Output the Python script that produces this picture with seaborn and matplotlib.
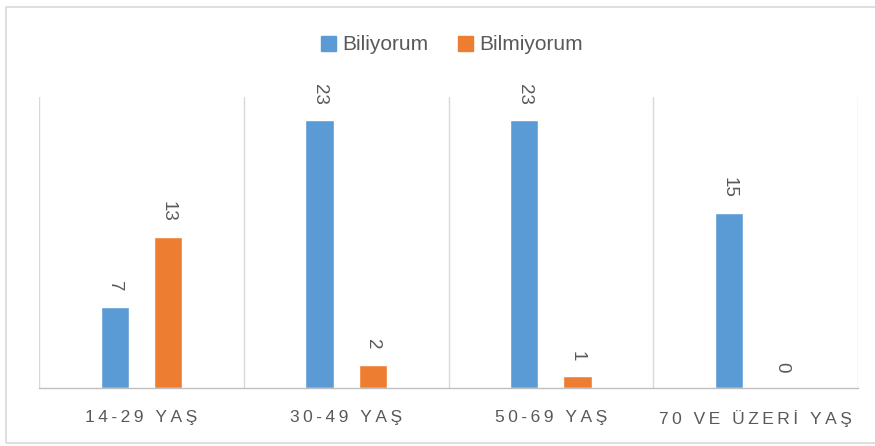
import matplotlib
matplotlib.use("Agg")
import matplotlib.pyplot as plt
import seaborn as sns
import pandas as pd
from matplotlib.patches import Rectangle

categories = ["14-29 YAŞ", "30-49 YAŞ", "50-69 YAŞ", "70 VE ÜZERİ YAŞ"]
series_names = ["Biliyorum", "Bilmiyorum"]
biliyorum = [7, 23, 23, 15]
bilmiyorum = [13, 2, 1, 0]

BLUE = "#5B9BD5"
ORANGE = "#ED7D31"
GRID = "#D9D9D9"
TEXT = "#595959"

sns.set_theme(style="white")
plt.rcParams['font.family'] = ['Liberation Sans', 'DejaVu Sans']

df = pd.DataFrame({
    "grup": categories * 2,
    "durum": [series_names[0]] * len(categories) + [series_names[1]] * len(categories),
    "deger": biliyorum + bilmiyorum,
})

W, H = 875, 446
fig = plt.figure(figsize=(W / 100, H / 100), dpi=100)
fig.patch.set_facecolor("white")
ax = fig.add_axes([39 / W, 1 - 388 / H, (858 - 39) / W, (388 - 97) / H])

sns.barplot(data=df, x="grup", y="deger", hue="durum", order=categories,
            hue_order=series_names, palette=[BLUE, ORANGE], width=0.52,
            gap=0.473, ax=ax, saturation=1)

ax.set_xlim(-0.5, len(categories) - 0.5)
ax.set_ylim(0, 25)
for s in ["top", "right", "left"]:
    ax.spines[s].set_visible(False)
ax.spines["bottom"].set_color("#BFBFBF")
ax.spines["bottom"].set_linewidth(1)
for xv in [i - 0.5 for i in range(len(categories) + 1)]:
    ax.axvline(xv, color=GRID, lw=1, zorder=0)
ax.set_yticks([])
ax.set_xlabel("")
ax.set_ylabel("")

def spaced(s):
    return "\u2009".join(list(s))

ax.set_xticks(range(len(categories)))
ax.set_xticklabels([spaced(c) for c in categories], fontsize=12.5, color=TEXT)
ax.tick_params(axis="x", length=0, pad=16)

for cont in ax.containers:
    ax.bar_label(cont, labels=[f"{v:g}" for v in cont.datavalues],
                 rotation=270, padding=11, fontsize=13.5, color=TEXT)

ax.legend_.remove()
handles = [Rectangle((0, 0), 1, 1, color=BLUE), Rectangle((0, 0), 1, 1, color=ORANGE)]
fig.legend(handles, series_names, loc="center", bbox_to_anchor=(452 / W, 1 - 45 / H),
           ncol=2, frameon=False, fontsize=15, handlelength=0.75, handleheight=0.75,
           handletextpad=0.3, columnspacing=1.4, labelcolor=TEXT)

fig.patches.append(Rectangle((6 / W, 3 / H), 1.0, 1 - 10 / H, transform=fig.transFigure,
                             fill=False, edgecolor=GRID, lw=1.2))

fig.savefig("out.png", dpi=100)
